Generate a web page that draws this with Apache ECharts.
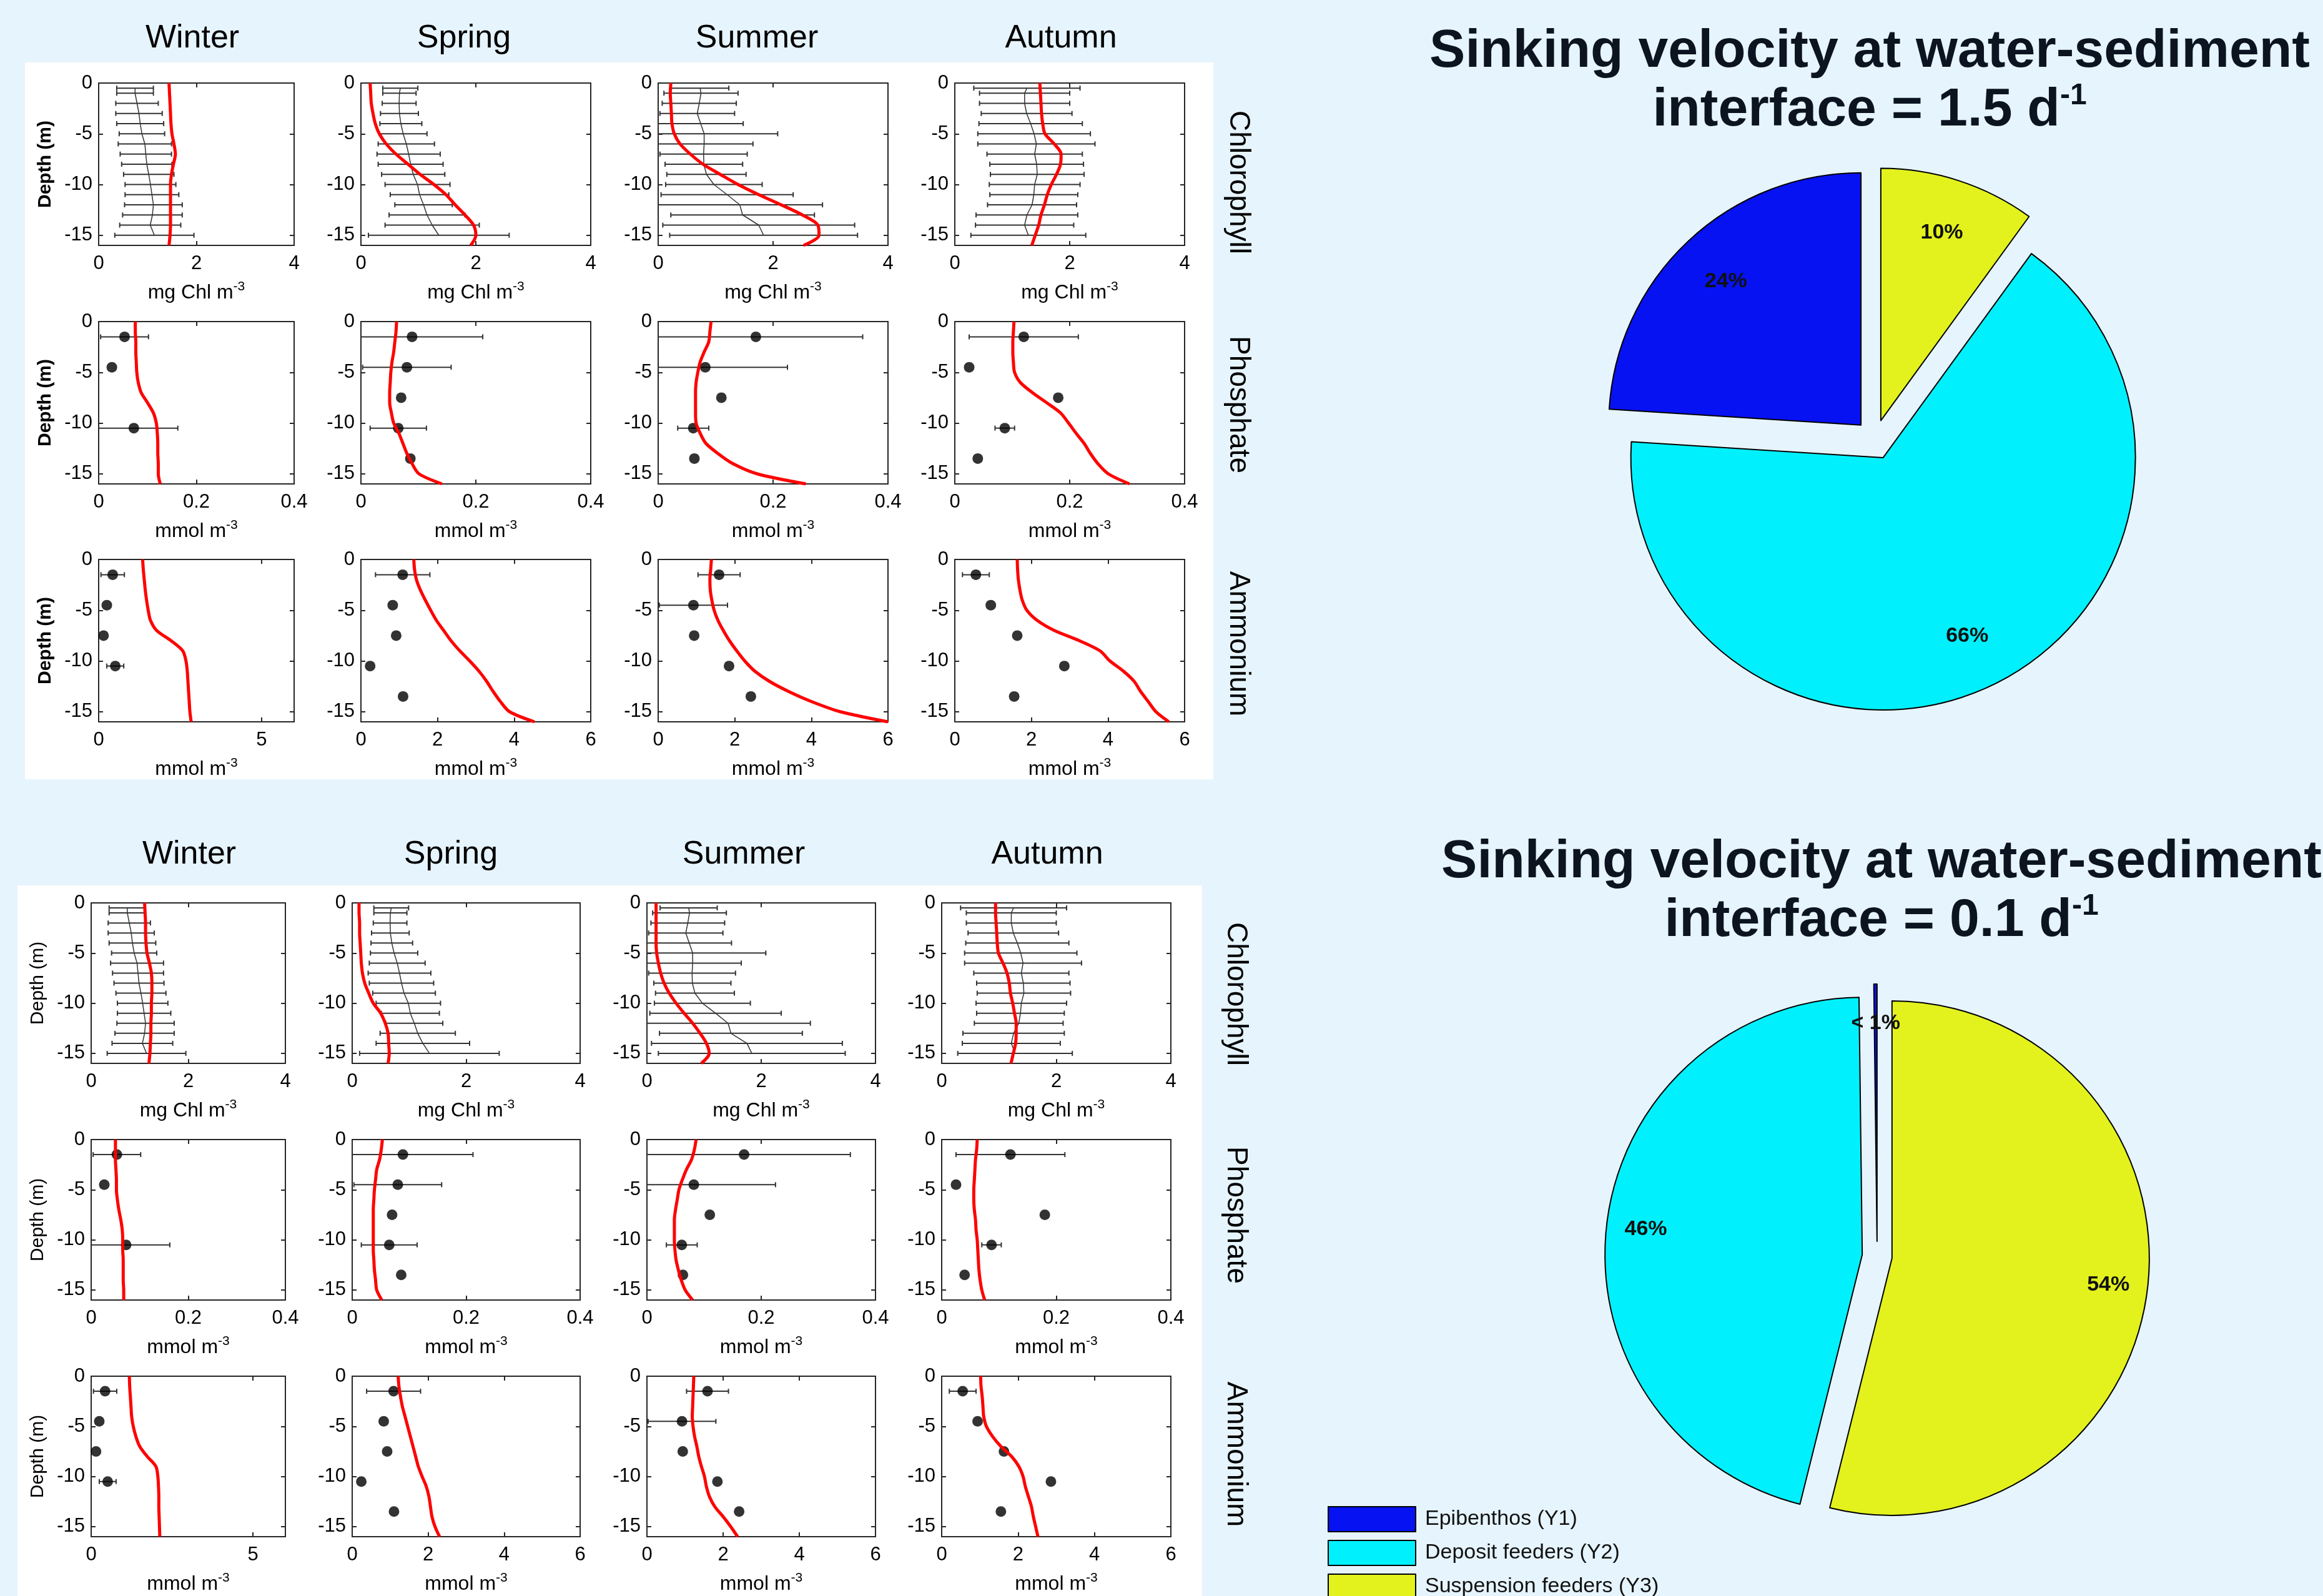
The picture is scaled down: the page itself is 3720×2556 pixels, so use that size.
<!DOCTYPE html>
<html>
<head>
<meta charset="utf-8">
<script src="https://cdn.jsdelivr.net/npm/echarts@6/dist/echarts.min.js"></script>
<style>
  html, body { margin: 0; padding: 0; background: #e6f4fd; }
  #chart { width: 3720px; height: 2556px; }
</style>
</head>
<body>
<div id="chart"></div>
<script>
// ---- data ----
const seasons = ['Winter', 'Spring', 'Summer', 'Autumn']
const rowNames = ['Chlorophyll', 'Phosphate', 'Ammonium']

const modelDepth = [0, -1, -2, -3, -4, -5, -6, -7, -8, -9, -10, -11, -12, -13, -14, -15, -16]
const chlObsDepth = [-0.5, -1, -2, -3, -4, -5, -6, -7, -8, -9, -10, -11, -12, -13, -14, -15]
const nutObsDepth = [-1.5, -4.5, -7.5, -10.5, -13.5]

// observed chlorophyll, mean and sd (winter, spring, summer, autumn)
const chlObsMean = [
  [0.745, 0.745, 0.785, 0.825, 0.85, 0.885, 0.945, 0.965, 0.985, 1.025, 1.06, 1.09, 1.12, 1.10, 1.055, 1.14],
  [0.685, 0.67, 0.665, 0.67, 0.695, 0.735, 0.79, 0.83, 0.865, 0.91, 0.985, 1.02, 1.09, 1.15, 1.24, 1.355],
  [0.73, 0.745, 0.715, 0.68, 0.74, 0.80, 0.80, 0.79, 0.795, 0.84, 0.97, 1.2, 1.42, 1.47, 1.75, 1.835],
  [1.255, 1.215, 1.215, 1.25, 1.32, 1.38, 1.42, 1.39, 1.425, 1.435, 1.39, 1.375, 1.345, 1.255, 1.215, 1.28]
]
const chlObsSd = [
  [0.375, 0.375, 0.435, 0.475, 0.48, 0.465, 0.545, 0.525, 0.515, 0.515, 0.52, 0.55, 0.59, 0.61, 0.625, 0.81],
  [0.305, 0.29, 0.295, 0.33, 0.365, 0.415, 0.49, 0.55, 0.565, 0.55, 0.565, 0.51, 0.5, 0.66, 0.82, 1.225],
  [0.5, 0.645, 0.645, 0.65, 0.74, 1.28, 0.85, 0.76, 0.675, 0.69, 0.84, 1.15, 1.44, 1.25, 1.67, 1.635],
  [0.925, 0.785, 0.785, 0.79, 0.9, 0.98, 1.02, 0.83, 0.815, 0.815, 0.79, 0.765, 0.775, 0.885, 0.855, 1.0]
]
// observed nutrients
const po4ObsMean = [
  [0.053, 0.027, null, 0.072, null],
  [0.089, 0.080, 0.070, 0.065, 0.086],
  [0.170, 0.082, 0.110, 0.061, 0.063],
  [0.120, 0.025, 0.180, 0.087, 0.040]
]
const po4ObsSd = [
  [0.049, null, null, 0.09, null],
  [0.123, 0.077, null, 0.049, null],
  [0.186, 0.143, null, 0.027, null],
  [0.095, null, null, 0.017, null]
]
const nh4ObsMean = [
  [0.43, 0.25, 0.15, 0.51, null],
  [1.09, 0.83, 0.92, 0.24, 1.10],
  [1.59, 0.92, 0.94, 1.85, 2.42],
  [0.55, 0.94, 1.63, 2.86, 1.55]
]
const nh4ObsSd = [
  [0.36, null, null, 0.26, null],
  [0.71, null, null, null, null],
  [0.55, 0.89, null, null, null],
  [0.35, null, null, null, null]
]

// model, sinking velocity 1.5 d-1
const chlFast = [
  [1.44, 1.45, 1.46, 1.47, 1.48, 1.50, 1.54, 1.57, 1.53, 1.49, 1.47, 1.47, 1.47, 1.47, 1.47, 1.46, 1.44],
  [0.16, 0.17, 0.18, 0.21, 0.25, 0.32, 0.44, 0.61, 0.82, 1.03, 1.27, 1.48, 1.64, 1.81, 1.96, 2.00, 1.91],
  [0.22, 0.21, 0.22, 0.23, 0.24, 0.28, 0.38, 0.56, 0.78, 1.08, 1.39, 1.75, 2.14, 2.51, 2.78, 2.80, 2.53],
  [1.48, 1.49, 1.50, 1.51, 1.53, 1.57, 1.73, 1.85, 1.84, 1.77, 1.68, 1.61, 1.56, 1.50, 1.46, 1.40, 1.34]
]
const po4Fast = [
  [0.075, 0.075, 0.076, 0.076, 0.077, 0.078, 0.081, 0.087, 0.100, 0.112, 0.118, 0.120, 0.121, 0.121, 0.122, 0.122, 0.126],
  [0.062, 0.061, 0.059, 0.057, 0.054, 0.052, 0.051, 0.050, 0.050, 0.053, 0.057, 0.066, 0.073, 0.080, 0.089, 0.101, 0.141],
  [0.092, 0.090, 0.088, 0.080, 0.073, 0.069, 0.066, 0.065, 0.065, 0.065, 0.066, 0.073, 0.083, 0.104, 0.130, 0.172, 0.257],
  [0.103, 0.102, 0.101, 0.101, 0.102, 0.104, 0.114, 0.135, 0.160, 0.184, 0.198, 0.211, 0.225, 0.236, 0.249, 0.267, 0.304]
]
const nh4Fast = [
  [1.35, 1.37, 1.40, 1.43, 1.47, 1.52, 1.59, 1.78, 2.22, 2.58, 2.68, 2.72, 2.74, 2.76, 2.78, 2.80, 2.84],
  [1.38, 1.40, 1.45, 1.55, 1.68, 1.82, 1.97, 2.16, 2.35, 2.58, 2.84, 3.08, 3.28, 3.45, 3.64, 3.88, 4.53],
  [1.39, 1.37, 1.35, 1.36, 1.40, 1.46, 1.56, 1.70, 1.86, 2.05, 2.26, 2.52, 2.90, 3.40, 4.00, 4.75, 6.00],
  [1.63, 1.64, 1.66, 1.70, 1.76, 1.88, 2.15, 2.60, 3.25, 3.79, 4.05, 4.40, 4.68, 4.85, 5.05, 5.25, 5.59]
]
// model, sinking velocity 0.1 d-1
const chlSlow = [
  [1.10, 1.11, 1.12, 1.12, 1.13, 1.15, 1.20, 1.24, 1.25, 1.25, 1.24, 1.24, 1.23, 1.23, 1.22, 1.21, 1.19],
  [0.12, 0.12, 0.13, 0.13, 0.14, 0.15, 0.16, 0.18, 0.22, 0.29, 0.37, 0.50, 0.58, 0.63, 0.64, 0.65, 0.63],
  [0.16, 0.16, 0.16, 0.16, 0.16, 0.17, 0.20, 0.24, 0.30, 0.39, 0.51, 0.65, 0.80, 0.93, 1.04, 1.09, 0.95],
  [0.94, 0.94, 0.95, 0.96, 0.97, 0.99, 1.07, 1.14, 1.18, 1.20, 1.24, 1.27, 1.30, 1.30, 1.29, 1.25, 1.21]
]
const po4Slow = [
  [0.050, 0.050, 0.050, 0.051, 0.052, 0.052, 0.054, 0.057, 0.061, 0.064, 0.065, 0.065, 0.066, 0.066, 0.066, 0.067, 0.067],
  [0.053, 0.051, 0.048, 0.043, 0.041, 0.039, 0.038, 0.037, 0.037, 0.037, 0.037, 0.037, 0.038, 0.039, 0.041, 0.043, 0.052],
  [0.086, 0.083, 0.078, 0.069, 0.062, 0.056, 0.053, 0.050, 0.048, 0.048, 0.048, 0.049, 0.051, 0.055, 0.060, 0.067, 0.080],
  [0.062, 0.061, 0.059, 0.058, 0.057, 0.056, 0.056, 0.057, 0.059, 0.060, 0.062, 0.063, 0.064, 0.065, 0.067, 0.070, 0.075]
]
const nh4Slow = [
  [1.18, 1.19, 1.21, 1.23, 1.25, 1.30, 1.38, 1.50, 1.73, 2.00, 2.06, 2.08, 2.09, 2.09, 2.10, 2.11, 2.12],
  [1.21, 1.23, 1.27, 1.32, 1.39, 1.46, 1.53, 1.60, 1.67, 1.74, 1.84, 1.95, 2.02, 2.06, 2.10, 2.18, 2.30],
  [1.23, 1.22, 1.21, 1.20, 1.19, 1.21, 1.25, 1.31, 1.36, 1.43, 1.51, 1.56, 1.64, 1.78, 2.00, 2.20, 2.38],
  [1.02, 1.03, 1.06, 1.08, 1.10, 1.17, 1.33, 1.55, 1.83, 2.02, 2.13, 2.19, 2.27, 2.35, 2.40, 2.46, 2.52]
]

const xMax = [4, 0.4, 6]
const xTicks = [[0, 2, 4], [0, 0.2, 0.4], [0, 2, 4, 6]]
const xTicksWinterNh4 = [0, 5]
const yTicks = [0, -5, -10, -15]
const unitNames = ['mg Chl m', 'mmol m', 'mmol m']

const groups = ['Epibenthos (Y1)', 'Deposit feeders (Y2)', 'Suspension feeders (Y3)']
const groupColors = ['#0612f2', '#00f1fd', '#e3f21d']
const shareFast = [24, 66, 10]
const shareFastLabels = ['24%', '66%', '10%']
const shareSlow = [0.2, 46, 54]
const shareSlowLabels = ['< 1%', '46%', '54%']

// ---- layout ----
const FONT = 'Liberation Sans'
const INK = '#0b1420'
const AXIS = '#262626'

const panels = [
  {
    colX: [158, 578, 1054, 1529], colW: [313, 368, 368, 368],
    rowY: [133, 515, 896], rowH: 260,
    white: [40, 100, 1903, 1148],
    colTitleY: 62, colTitleX: [308, 743, 1212, 1699],
    rowLabelX: 1983, rowLabelY: [292, 648, 1031],
    model: [chlFast, po4Fast, nh4Fast], depthWeight: 'bold',
    title: 'Sinking velocity at water-sediment\ninterface = 1.5 d{s|-1}', titleX: 2994, titleTop: 36,
    pieCenter: [3002, 704], pieRadius: 404, pieOffset: 32,
    share: shareFast, shareLabels: shareFastLabels, labelRadius: 690
  },
  {
    colX: [146, 564, 1036, 1508], colW: [311, 365, 366, 367],
    rowY: [1446, 1825, 2204], rowH: 257,
    white: [28, 1418, 1897, 1138],
    colTitleY: 1369, colTitleX: [303, 722, 1191, 1677],
    rowLabelX: 1979, rowLabelY: [1592, 1946, 2329],
    model: [chlSlow, po4Slow, nh4Slow], depthWeight: 'normal',
    title: 'Sinking velocity at water-sediment\ninterface = 0.1 d{s|-1}', titleX: 3013, titleTop: 1334,
    pieCenter: [3006, 2012], pieRadius: 412, pieOffset: 24,
    share: shareSlow, shareLabels: shareSlowLabels, labelRadius: 740
  }
]

function textEl (text, x, y, fontSize, extra) {
  return Object.assign({
    type: 'text', x: x, y: y, silent: true,
    style: {
      text: text, fontSize: fontSize, fontFamily: FONT, fill: '#000',
      textAlign: 'center', align: 'center', textVerticalAlign: 'middle', verticalAlign: 'middle'
    }
  }, extra || {})
}

function errorBar (params, api) {
  const y = api.value(0)
  const a = api.coord([api.value(1), y])
  const b = api.coord([api.value(2), y])
  const cap = 4
  const st = { stroke: '#333', lineWidth: 2 }
  return {
    type: 'group',
    children: [
      { type: 'line', shape: { x1: a[0], y1: a[1], x2: b[0], y2: b[1] }, style: st },
      { type: 'line', shape: { x1: a[0], y1: a[1] - cap, x2: a[0], y2: a[1] + cap }, style: st },
      { type: 'line', shape: { x1: b[0], y1: b[1] - cap, x2: b[0], y2: b[1] + cap }, style: st }
    ]
  }
}

const grids = []
const xAxes = []
const yAxes = []
const series = []
const graphics = []
const titles = []

const axisLine = { show: true, onZero: false, lineStyle: { color: AXIS, width: 2 } }
const tickStyle = { color: AXIS, width: 2 }

panels.forEach((p, pi) => {
  graphics.push({
    type: 'rect', z: -10, silent: true,
    shape: { x: p.white[0], y: p.white[1], width: p.white[2], height: p.white[3] },
    style: { fill: '#ffffff' }
  })
  seasons.forEach((s, c) => graphics.push(textEl(s, p.colTitleX[c], p.colTitleY, 52)))
  rowNames.forEach((n, r) => graphics.push(textEl(n, p.rowLabelX, p.rowLabelY[r], 46, { rotation: -Math.PI / 2 })))

  titles.push({
    text: p.title, left: p.titleX, top: p.titleTop, textAlign: 'center', padding: 0,
    textStyle: {
      fontFamily: FONT, fontSize: 86, fontWeight: 'bold', color: INK, lineHeight: 94,
      rich: { s: { fontFamily: FONT, fontSize: 48, fontWeight: 'bold', color: INK, verticalAlign: 'top', lineHeight: 56 } }
    }
  })

  for (let r = 0; r < 3; r++) {
    for (let c = 0; c < 4; c++) {
      const g = grids.length
      grids.push({ left: p.colX[c], top: p.rowY[r], width: p.colW[c], height: p.rowH, outerBoundsMode: 'none' })
      const ticks = (r === 2 && c === 0) ? xTicksWinterNh4 : xTicks[r]
      xAxes.push({
        gridIndex: g, type: 'value', min: 0, max: xMax[r], position: 'bottom',
        axisLine: axisLine,
        axisTick: { inside: true, length: 7, customValues: ticks, lineStyle: tickStyle },
        axisLabel: { customValues: ticks, fontSize: 31, fontFamily: FONT, color: '#000', margin: 14 },
        splitLine: { show: false },
        name: '{n|' + unitNames[r] + '}{s|-3}', nameLocation: 'middle', nameGap: 56,
        nameTextStyle: {
          rich: {
            n: { fontSize: 32, fontFamily: FONT, color: '#000', lineHeight: 40 },
            s: { fontSize: 21, fontFamily: FONT, color: '#000', lineHeight: 22, verticalAlign: 'top' }
          }
        }
      })
      xAxes.push({
        gridIndex: g, type: 'value', min: 0, max: xMax[r], position: 'top',
        axisLine: axisLine,
        axisTick: { inside: true, length: 7, customValues: ticks, lineStyle: tickStyle },
        axisLabel: { show: false }, splitLine: { show: false }
      })
      yAxes.push({
        gridIndex: g, type: 'value', min: -16, max: 0, position: 'left',
        axisLine: axisLine,
        axisTick: { inside: true, length: 7, customValues: yTicks, lineStyle: tickStyle },
        axisLabel: { customValues: yTicks, fontSize: 31, fontFamily: FONT, color: '#000', margin: 10 },
        splitLine: { show: false },
        name: c === 0 ? 'Depth (m)' : '', nameLocation: 'middle', nameGap: 70, nameRotate: 90,
        nameTextStyle: { fontSize: 30, fontFamily: FONT, color: '#000', fontWeight: p.depthWeight }
      })
      yAxes.push({
        gridIndex: g, type: 'value', min: -16, max: 0, position: 'right',
        axisLine: axisLine,
        axisTick: { inside: true, length: 7, customValues: yTicks, lineStyle: tickStyle },
        axisLabel: { show: false }, splitLine: { show: false }
      })
      const xi = 2 * g
      const yi = 2 * g

      if (r === 0) {
        const mean = chlObsMean[c]
        const sd = chlObsSd[c]
        series.push({
          type: 'custom', xAxisIndex: xi, yAxisIndex: yi, renderItem: errorBar, clip: true, silent: true, z: 2,
          encode: { x: [1, 2], y: 0 },
          data: chlObsDepth.map((d, i) => [d, mean[i] - sd[i], mean[i] + sd[i]])
        })
        series.push({
          type: 'line', xAxisIndex: xi, yAxisIndex: yi, symbol: 'none', silent: true, z: 3,
          lineStyle: { color: '#333', width: 1.5 },
          data: chlObsDepth.map((d, i) => [mean[i], d])
        })
      } else {
        const mean = r === 1 ? po4ObsMean[c] : nh4ObsMean[c]
        const sd = r === 1 ? po4ObsSd[c] : nh4ObsSd[c]
        const bars = []
        const dots = []
        nutObsDepth.forEach((d, i) => {
          if (mean[i] === null) return
          dots.push([mean[i], d])
          if (sd[i] !== null) bars.push([d, mean[i] - sd[i], mean[i] + sd[i]])
        })
        series.push({
          type: 'custom', xAxisIndex: xi, yAxisIndex: yi, renderItem: errorBar, clip: true, silent: true, z: 2,
          encode: { x: [1, 2], y: 0 }, data: bars
        })
        series.push({
          type: 'scatter', xAxisIndex: xi, yAxisIndex: yi, symbolSize: 17, silent: true, z: 4,
          itemStyle: { color: '#000' }, data: dots
        })
      }
      const model = p.model[r][c]
      series.push({
        type: 'line', xAxisIndex: xi, yAxisIndex: yi, symbol: 'none', smooth: 0.3, silent: true, z: 5,
        lineStyle: { color: '#ff0000', width: 5 },
        data: modelDepth.map((d, i) => [model[i], d])
      })
    }
  }
})

// pies first so the legend takes their colours
panels.forEach(p => {
  series.push({
    type: 'pie', center: p.pieCenter, radius: [0, p.pieRadius], startAngle: 90, clockwise: false,
    selectedMode: 'multiple', selectedOffset: p.pieOffset, silent: true,
    label: { show: false }, labelLine: { show: false },
    itemStyle: { borderColor: '#000', borderWidth: 2 },
    emphasis: { disabled: true },
    data: groups.map((n, i) => ({ name: n, value: p.share[i], selected: true, itemStyle: { color: groupColors[i] } }))
  })
})
// label-only pies, radius set so that "inside" labels land near the rim
panels.forEach(p => {
  series.push({
    type: 'pie', center: p.pieCenter, radius: [0, p.labelRadius], startAngle: 90, clockwise: false,
    silent: true, legendHoverLink: false, z: 6,
    itemStyle: { color: 'rgba(0,0,0,0)', borderWidth: 0 },
    label: {
      show: true, position: 'inside', fontSize: 34, fontWeight: 'bold', fontFamily: FONT, color: '#111',
      formatter: prm => p.shareLabels[prm.dataIndex]
    },
    labelLine: { show: false },
    emphasis: { disabled: true },
    data: groups.map((n, i) => ({ name: n, value: p.share[i] }))
  })
})

const chart = echarts.init(document.getElementById('chart'))
chart.setOption({
  backgroundColor: '#e6f4fd',
  animation: false,
  title: titles,
  legend: {
    data: groups, orient: 'vertical', left: 2126, top: 2412, height: 240, padding: 0,
    itemWidth: 140, itemHeight: 40, itemGap: 12, icon: 'rect', selectedMode: false,
    itemStyle: { borderColor: '#000', borderWidth: 2 },
    textStyle: { fontSize: 34, fontFamily: FONT, color: '#111', padding: [0, 0, 0, 10] }
  },
  grid: grids,
  xAxis: xAxes,
  yAxis: yAxes,
  series: series,
  graphic: { elements: graphics }
})
</script>
</body>
</html>
